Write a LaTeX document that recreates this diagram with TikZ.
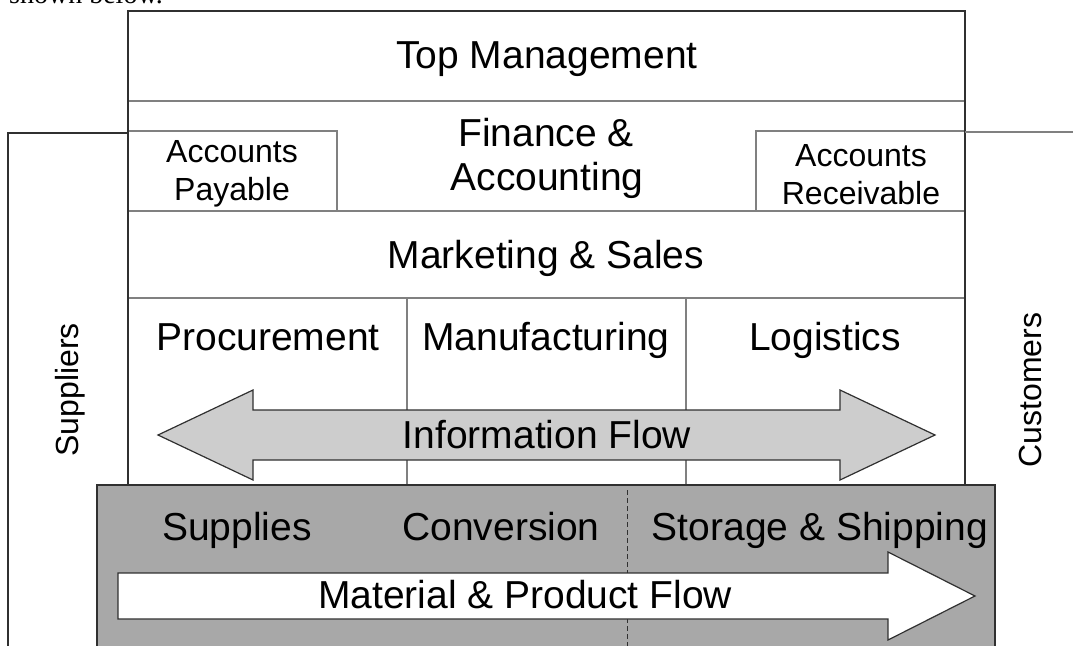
\documentclass[tikz,border=0pt]{standalone}
\usepackage{fontspec}
\setmainfont{Liberation Sans}
\newfontfamily\serifface{Liberation Serif}
\definecolor{boxgray}{HTML}{A8A8A8}
\definecolor{infogray}{HTML}{CDCDCD}
\definecolor{edgedark}{HTML}{303030}
\definecolor{edgemid}{HTML}{808080}
\begin{document}
\begin{tikzpicture}[x=1pt,y=-1pt,
  outer/.style={draw=edgedark, line width=1.3pt},
  inner/.style={draw=edgemid, line width=1.1pt},
  arrowedge/.style={draw=edgedark, line width=1.2pt, line join=miter},
  big/.style={font=\fontsize{39}{44}\selectfont, inner sep=0pt, anchor=base},
  small/.style={font=\fontsize{32}{36}\selectfont, inner sep=0pt, anchor=base},
]
\useasboundingbox (0,0) rectangle (1073,645);
\clip (0,0) rectangle (1073,645);

% stray caption text from the page above the figure
\node[font=\serifface\fontsize{28}{32}\selectfont, inner sep=0pt, anchor=base west] (caption) at (9,3) {shown below.};

% ---- organisation frame ----
\draw[inner] (128,101) -- (965,101);
\draw[inner] (128,211) -- (965,211);
\draw[inner] (128,298) -- (965,298);
\draw[inner] (128,131) -- (337,131) -- (337,211);
\draw[inner] (965,131) -- (756,131) -- (756,211);
\draw[inner] (407,298) -- (407,485);
\draw[inner] (686,298) -- (686,485);
\draw[outer] (128,485) -- (128,11) -- (965,11) -- (965,485);

% ---- supplier / customer lines ----
\coordinate (apL) at (128,133);
\coordinate (supEnd) at (8,650);
\coordinate (arR) at (965,132);
\coordinate (custEnd) at (1080,132);
\draw[outer, line width=1.1pt] (apL) -| (supEnd);
\draw[inner] (arR) -- (custEnd);

% ---- information flow arrow ----
\draw[arrowedge, fill=infogray]
  (158,435) -- (253,390) -- (253,410) -- (840,410) -- (840,390) -- (935,435)
  -- (840,480) -- (840,460) -- (253,460) -- (253,480) -- cycle;

% ---- material box ----
\draw[outer, fill=boxgray] (97,650) -- (97,485) -- (995,485) -- (995,650);
\draw[draw=edgedark, line width=0.8pt, dash pattern=on 5pt off 3pt] (627,490) -- (627,650);

% ---- material & product flow arrow ----
\draw[arrowedge, fill=white]
  (118,573) -- (888,573) -- (888,552) -- (975,596) -- (888,640) -- (888,619) -- (118,619) -- cycle;

% ---- texts ----
\node[big] (top) at (547,68) {Top Management};
\node[big] (fin1) at (546,146) {Finance \&};
\node[big] (fin2) at (547,190) {Accounting};
\node[small] (ap1) at (232,162) {Accounts};
\node[small] (ap2) at (232,200) {Payable};
\node[small] (ar1) at (861,166) {Accounts};
\node[small] (ar2) at (861,204) {Receivable};
\node[big] (mkt) at (546,268) {Marketing \& Sales};
\node[big] (proc) at (268,350) {Procurement};
\node[big] (manu) at (546,350) {Manufacturing};
\node[big] (logi) at (825,350) {Logistics};
\node[big] (info) at (547,448) {Information Flow};
\node[big] (supp) at (237,540) {Supplies};
\node[big] (conv) at (501,540) {Conversion};
\node[big] (stor) at (820,540) {Storage \& Shipping};
\node[big] (mat) at (525,608) {Material \& Product Flow};
\node[small, rotate=90] (suppliers) at (78,390) {Suppliers};
\node[small, rotate=90] (customers) at (1041,390) {Customers};
\end{tikzpicture}
\end{document}
